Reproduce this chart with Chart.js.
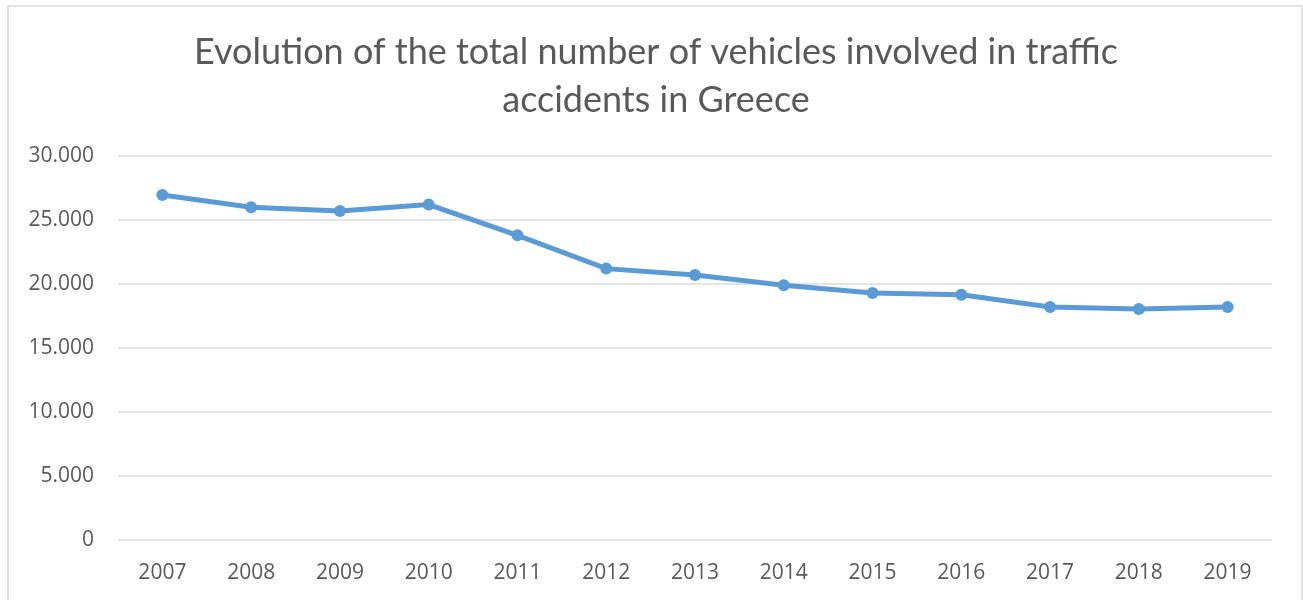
<!DOCTYPE html>
<html>
<head>
<meta charset="utf-8">
<title>Vehicles involved in traffic accidents</title>
<script src="https://cdn.jsdelivr.net/npm/chart.js@4/dist/chart.umd.min.js"></script>
<style>
  html, body { margin: 0; padding: 0; background: #fff; }
  #wrap { width: 1303px; height: 600px; position: relative; }
</style>
</head>
<body>
<div id="wrap"><canvas id="vehicles-chart" width="1303" height="600"></canvas></div>
<script>
var years = ['2007', '2008', '2009', '2010', '2011', '2012', '2013',
             '2014', '2015', '2016', '2017', '2018', '2019'];
var vehicles = [26950, 26000, 25700, 26200, 23800, 21200, 20700,
                19900, 19300, 19150, 18200, 18050, 18200];
var yTicks = [0, 5000, 10000, 15000, 20000, 25000, 30000];

var grey = '#595959';
var blue = '#5b9bd5';

// white background and thin frame round the chart,
// title box nudged right so it centres a bit off the canvas middle
var frame = {
  id: 'frame',
  afterLayout: function(chart) {
    if (chart.titleBlock) chart.titleBlock.left += 40;
  },
  beforeDraw: function(chart) {
    var ctx = chart.ctx;
    ctx.save();
    ctx.fillStyle = '#fff';
    ctx.fillRect(0, 0, chart.width, chart.height);
    ctx.strokeStyle = '#e3e3e3';
    ctx.lineWidth = 2;
    ctx.strokeRect(8, 6, 1294, 600);
    ctx.restore();
  }
};

function thousands(v) {
  return String(v).replace(/\B(?=(\d{3})+(?!\d))/g, '.');
}

var ctx = document.getElementById('vehicles-chart');

new Chart(ctx, {
  type: 'line',
  data: {
    labels: years,
    datasets: [{
      label: 'Vehicles',
      data: vehicles,
      borderColor: blue,
      backgroundColor: blue,
      borderWidth: 5,
      pointRadius: 6,
      pointBackgroundColor: blue,
      pointBorderWidth: 0,
      tension: 0
    }]
  },
  options: {
    responsive: false,
    animation: false,
    layout: { padding: { left: 0, right: 31, top: 0, bottom: 0 } },
    plugins: {
      legend: { display: false },
      tooltip: { enabled: false },
      title: {
        display: true,
        text: ['Evolution of the total number of vehicles involved in traffic',
               'accidents in Greece'],
        color: grey,
        font: { family: 'Lato', size: 36, weight: 'normal', lineHeight: 1.333 },
        padding: { top: 28, bottom: 32 }
      }
    },
    scales: {
      x: {
        offset: true,
        grid: { display: false, drawTicks: false },
        border: { display: false },
        ticks: {
          color: grey,
          font: { family: 'Open Sans', size: 21 },
          padding: 20,
          maxRotation: 0
        },
        afterFit: function(scale) { scale.height = 60; }
      },
      y: {
        min: 0,
        max: 30000,
        afterBuildTicks: function(scale) {
          scale.ticks = yTicks.map(function(v) { return { value: v }; });
        },
        grid: { color: '#e4e4e4', lineWidth: 2, drawTicks: false },
        border: { display: false },
        ticks: {
          color: grey,
          font: { family: 'Open Sans', size: 21 },
          padding: 24,
          callback: function(v) { return thousands(v); }
        },
        afterFit: function(scale) { scale.width = 118; }
      }
    }
  },
  plugins: [frame]
});
</script>
</body>
</html>
